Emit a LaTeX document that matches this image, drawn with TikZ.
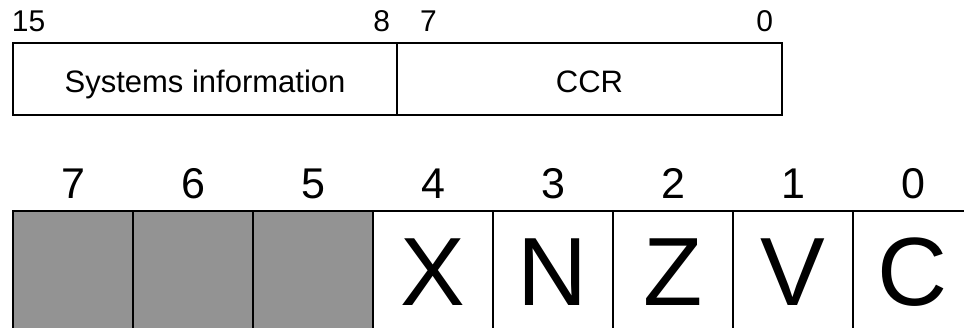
\documentclass[tikz,border=0pt]{standalone}
\usepackage{fontspec}
\setmainfont{Liberation Sans}
\definecolor{rsvgray}{RGB}{147,147,147}
\begin{document}
\begin{tikzpicture}[x=1pt,y=1pt,
  every node/.style={inner sep=0pt, outer sep=0pt},
  box/.style={draw=black, line width=1.5pt, anchor=north west, minimum height=72pt},
  cell/.style={draw=black, line width=1.5pt, anchor=north west, minimum width=120pt, minimum height=140pt},
  reserved/.style={cell, fill=rsvgray},
  small/.style={font=\fontsize{30}{34}\selectfont},
  mid/.style={font=\fontsize{31}{36}\selectfont},
  bitnum/.style={font=\fontsize{43}{50}\selectfont, anchor=base},
  flag/.style={font=\fontsize{97}{110}\selectfont, anchor=base}]
\useasboundingbox (0,0) rectangle (964,-327);
\clip (0,0) rectangle (964,-327);
% top register
\node[small, anchor=base west] (t15) at (12,-31) {15};
\node[small, anchor=base east] (t8) at (390,-31) {8};
\node[small, anchor=base west] (t7) at (420,-31) {7};
\node[small, anchor=base east] (t0) at (773,-31) {0};
\node[box, minimum width=384pt] (sys) at (13,-43) {};
\node[box, minimum width=385pt] (ccr) at (397,-43) {};
\node[mid, anchor=base] (systxt) at (sys.center |- 0,-92) {Systems information};
\node[mid, anchor=base] (ccrtxt) at (ccr.center |- 0,-92) {CCR};
% CCR bits
\node[reserved] (c7) at (13,-211) {};
\node[reserved] (c6) at (133,-211) {};
\node[reserved] (c5) at (253,-211) {};
\node[cell] (c4) at (373,-211) {};
\node[cell] (c3) at (493,-211) {};
\node[cell] (c2) at (613,-211) {};
\node[cell] (c1) at (733,-211) {};
\node[cell] (c0) at (853,-211) {};
\foreach \n in {7,6,5,4,3,2,1,0} {
  \node[bitnum] (n\n) at (c\n.center |- 0,-198) {\n};
}
\node[flag] (fx) at (c4.center |- 0,-305) {X};
\node[flag] (fn) at (c3.center |- 0,-305) {N};
\node[flag] (fz) at (c2.center |- 0,-305) {Z};
\node[flag] (fv) at (c1.center |- 0,-305) {V};
\node[flag] (fc) at (c0.center |- 0,-305) {C};
\end{tikzpicture}
\end{document}
